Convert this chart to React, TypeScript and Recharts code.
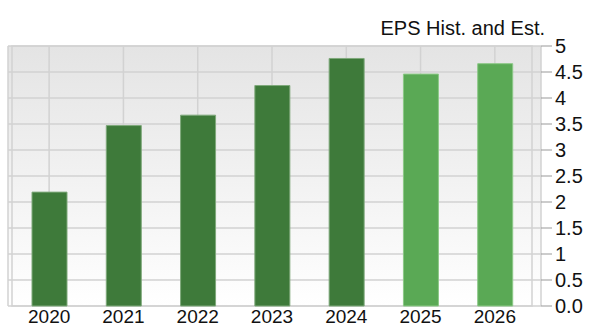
import { BarChart, Bar, XAxis, YAxis, CartesianGrid, Cell, ReferenceArea } from 'recharts'

const years = ['2020', '2021', '2022', '2023', '2024', '2025', '2026']
const eps = [2.19, 3.47, 3.67, 4.24, 4.76, 4.46, 4.66]
const isEstimate = [false, false, false, false, false, true, true]
const yTicks = [0, 0.5, 1, 1.5, 2, 2.5, 3, 3.5, 4, 4.5, 5]

const data = years.map((year, i) => ({ year, eps: eps[i], est: isEstimate[i] }))

const FONT = '"Liberation Sans", Arial, sans-serif'

export default function App() {
  return (
    <div style={{ position: 'absolute', left: 0, top: 0, width: 610, height: 335, background: '#fff', fontFamily: FONT }}>
      <div style={{ position: 'absolute', right: 65, top: 17, fontSize: 20, color: '#111', lineHeight: '22px' }}>
        EPS Hist. and Est.
      </div>
      <BarChart width={610} height={335} data={data} margin={{ top: 46, right: 0, bottom: 0, left: 8 }} barCategoryGap={0}>
        <defs>
          <linearGradient id="bgGrad" x1="0" y1="0" x2="0" y2="1">
            <stop offset="0%" stopColor="#e4e4e4" />
            <stop offset="100%" stopColor="#ffffff" />
          </linearGradient>
        </defs>
        <CartesianGrid stroke="#d2d2d2" strokeWidth={1.5} fill="url(#bgGrad)" />
        <ReferenceArea y1={0} y2={5} fill="none" stroke="#d2d2d2" strokeWidth={1.5} ifOverflow="visible" />
        <XAxis
          dataKey="year"
          axisLine={false}
          tickLine={false}
          height={29}
          padding={{ left: 4, right: 9 }}
          tick={{ fontSize: 19, fill: '#111', fontFamily: FONT }}
          tickSize={0}
          tickMargin={4}
          interval={0}
        />
        <YAxis
          orientation="right"
          width={69}
          domain={[0, 5]}
          ticks={yTicks}
          interval={0}
          axisLine={false}
          tickLine={{ stroke: '#999' }}
          tickSize={11}
          tickMargin={3}
          tick={{ fontSize: 20, fill: '#111', fontFamily: FONT, textAnchor: 'start' }}
          tickFormatter={(v) => (v === 0 ? '0.0' : String(v))}
        />
        <Bar dataKey="eps" barSize={35} isAnimationActive={false}>
          {data.map((d) => (
            <Cell key={d.year} fill={d.est ? '#5aa955' : '#3e7a3a'} stroke={d.est ? '#8cc887' : '#7fa97b'} strokeWidth={1} />
          ))}
        </Bar>
      </BarChart>
    </div>
  )
}
